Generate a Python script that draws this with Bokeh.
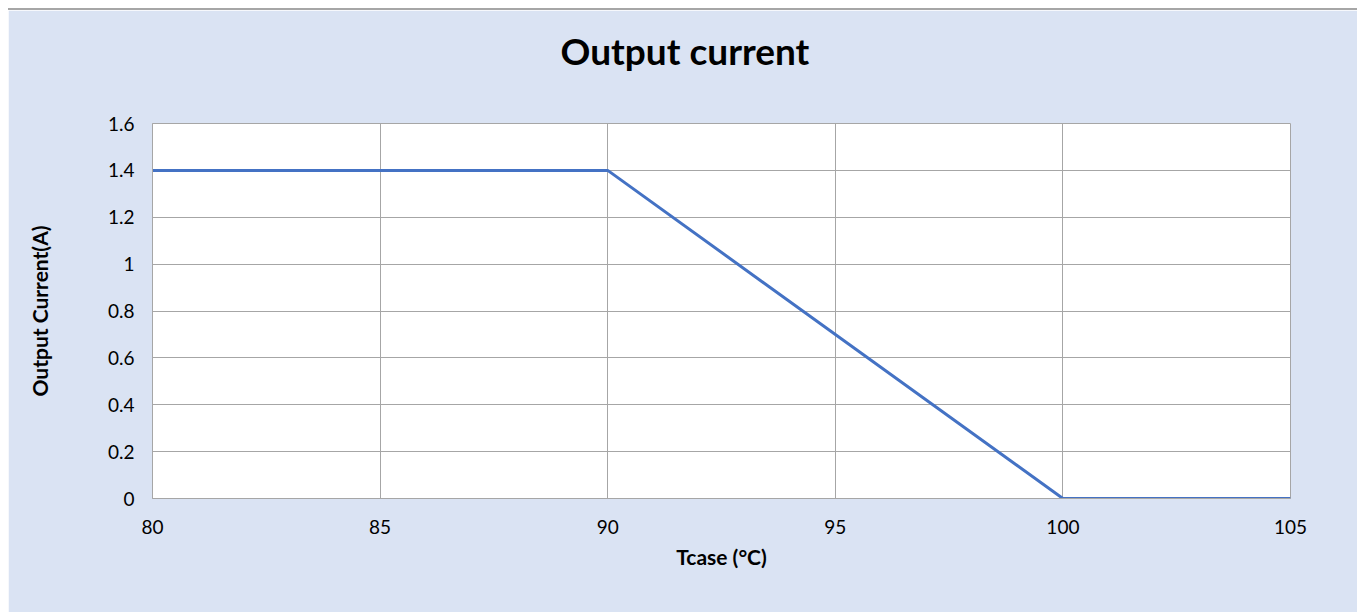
from bokeh.plotting import figure
from bokeh.models import Range1d, FixedTicker, Title
from bokeh.embed import file_html
from bokeh.resources import INLINE

# Data
tcase = [80, 90, 100, 105]
current = [1.4, 1.4, 0.0, 0.0]
x_ticks = [80, 85, 90, 95, 100, 105]
y_ticks = [0, 0.2, 0.4, 0.6, 0.8, 1.0, 1.2, 1.4, 1.6]
y_tick_labels = ["0", "0.2", "0.4", "0.6", "0.8", "1", "1.2", "1.4", "1.6"]

FONT = "Lato"
BG = "#DAE3F3"
GRID = "#A6A6A6"

p = figure(width=1349, height=604, output_backend="svg", toolbar_location=None,
           x_range=Range1d(80, 105), y_range=Range1d(0, 1.6),
           min_border_left=144, min_border_right=67, min_border_top=113,
           min_border_bottom=116)
p.background_fill_color = "white"
p.border_fill_color = BG
p.outline_line_color = GRID
p.outline_line_width = 1
p.styles = {"border-top": "2px solid #A6A6A6", "margin-left": "8px", "margin-top": "8px"}

p.title.text = "Output current"
p.title.text_font = FONT
p.title.text_font_size = "37px"
p.title.text_font_style = "bold"
p.title.text_color = "black"
p.title.align = "left"
p.title.offset = 408
p.title.standoff = 0

# invisible spacer between title and plot frame
spacer = Title(text=" ", text_font=FONT, text_font_size="37px", standoff=4)
p.add_layout(spacer, "above")

p.line(tcase, current, line_color="#4472C4", line_width=3)

p.xaxis.ticker = FixedTicker(ticks=x_ticks)
p.yaxis.ticker = FixedTicker(ticks=y_ticks)
p.yaxis.major_label_overrides = {t: l for t, l in zip(y_ticks, y_tick_labels)}

for ax in (p.xaxis, p.yaxis):
    ax.axis_line_color = GRID
    ax.major_tick_line_color = None
    ax.minor_tick_line_color = None
    ax.major_label_text_font = FONT
    ax.major_label_text_font_size = "19px"
    ax.major_label_text_color = "black"
    ax.axis_label_text_font = FONT
    ax.axis_label_text_font_size = "21px"
    ax.axis_label_text_font_style = "bold"
    ax.axis_label_text_color = "black"

p.xaxis.axis_label = "Tcase (°C)"
p.yaxis.axis_label = "Output Current(A)"
p.xaxis.major_label_standoff = 15
p.yaxis.major_label_standoff = 12
p.xaxis.axis_label_standoff = 7
p.yaxis.axis_label_standoff = 53

p.grid.grid_line_color = GRID
p.grid.grid_line_width = 1

open("out.html", "w").write(file_html(p, INLINE))
